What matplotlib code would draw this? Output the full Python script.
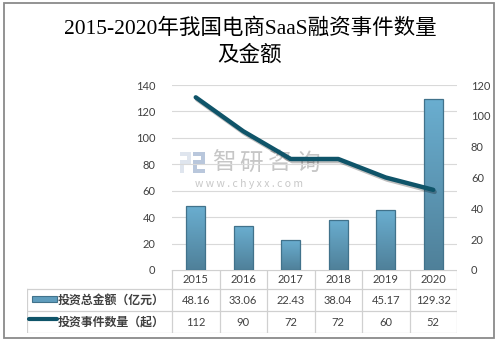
import numpy as np
import matplotlib
matplotlib.use("Agg")
import matplotlib.pyplot as plt
from matplotlib.colors import LinearSegmentedColormap
from matplotlib.patches import Rectangle
import matplotlib.patheffects as pe

years = ["2015", "2016", "2017", "2018", "2019", "2020"]
amount = [48.16, 33.06, 22.43, 38.04, 45.17, 129.32]
amount_labels = ["48.16", "33.06", "22.43", "38.04", "45.17", "129.32"]
events = [112, 90, 72, 72, 60, 52]
series_names = ["投资总金额（亿元）", "投资事件数量（起）"]
title = "2015-2020年我国电商SaaS融资事件数量\n及金额"
watermark = "智研咨询"
watermark_url = "w w w . c h y x x . c o m"

W, H = 499, 344
fig = plt.figure(figsize=(W / 100, H / 100), dpi=100)

def fx(px):
    return px / W

def fy(py):
    return 1 - py / H

CJK = ["Noto Sans CJK SC", "DejaVu Sans"]
NUM = ["Lato", "Noto Sans CJK SC"]
TXT = "#404040"

# outer border
fig.patches.append(Rectangle((fx(4), fy(338)), fx(494) - fx(4), fy(3) - fy(338),
                             transform=fig.transFigure, fill=False,
                             edgecolor="#8a8a8a", linewidth=1.3))

# title
fig.text(fx(250), fy(42), title, ha="center", va="center", fontsize=15.5,
         family=["Liberation Serif", "Noto Sans CJK SC"], color="black",
         linespacing=1.4)

# main axes
L, R, T, B = 172, 457, 85, 270
ax = fig.add_axes([fx(L), fy(B), fx(R) - fx(L), fy(T) - fy(B)])
ax.patch.set_alpha(0)
ax2 = ax.twinx()
ax2.patch.set_alpha(0)
x = np.arange(len(years))
ax.set_xlim(-0.5, len(years) - 0.5)
ax.set_ylim(0, 140)
ax2.set_ylim(0, 120)
ax.set_yticks(np.arange(0, 141, 20))
ax2.set_yticks(np.arange(0, 121, 20))
ax.set_xticks([])
for a in (ax, ax2):
    for s in a.spines.values():
        s.set_visible(False)
    a.tick_params(length=0, labelsize=8, labelcolor=TXT)
ax.tick_params(axis="y", pad=12)
ax2.tick_params(axis="y", pad=10)
for lab in ax.get_yticklabels() + ax2.get_yticklabels():
    lab.set_family(NUM)
ax.grid(axis="y", color="#d9d9d9", linewidth=0.8)
ax.set_axisbelow(True)

# watermark (behind the plot)
for i, ch in enumerate(watermark):
    fig.text(fx(223.5 + i * 28), fy(163), ch, fontsize=17, color="#c6c6c6",
             family=CJK, ha="center", va="center", zorder=-1)
fig.text(fx(249), fy(184), watermark_url, fontsize=7.5, color="#c8c8c8",
         family=CJK, ha="center", va="center", zorder=-1)
for (px0, py0, pw, ph, c) in [(180, 152, 11, 4, "#dfe5ee"), (187, 152, 4, 12, "#dfe5ee"),
                              (180, 160, 11, 4, "#dfe5ee"), (180, 160, 4, 13, "#dfe5ee"),
                              (193, 152, 12, 4, "#b9c7dc"), (201, 152, 4, 12, "#b9c7dc"),
                              (193, 160, 12, 4, "#b9c7dc"), (193, 160, 4, 13, "#b9c7dc"),
                              (193, 169, 12, 4, "#b9c7dc")]:
    fig.patches.append(Rectangle((fx(px0), fy(py0 + ph)), fx(pw), ph / H,
                                 transform=fig.transFigure, facecolor=c,
                                 edgecolor="none", zorder=-1))

# bars with gradient
cmap = LinearSegmentedColormap.from_list("bg", ["#4f8099", "#6aaed0"])
grad = np.linspace(0, 1, 256).reshape(-1, 1)
bw = 0.4
bars = ax.bar(x, amount, width=bw, facecolor="none", edgecolor="#41728b",
              linewidth=0.9, zorder=3)
for b in bars:
    x0, y0 = b.get_x(), b.get_y()
    im = ax.imshow(grad, extent=[x0, x0 + b.get_width(), y0, y0 + b.get_height()],
                   origin="lower", aspect="auto", cmap=cmap, zorder=2.5)
    im.set_clip_path(b)
ax.set_xlim(-0.5, len(years) - 0.5)
ax.set_ylim(0, 140)

# line
ax2.plot(x, events, color="#0f5469", linewidth=3.2, solid_capstyle="round",
         solid_joinstyle="round", zorder=4,
         path_effects=[pe.SimpleLineShadow(offset=(1, -1.5), alpha=0.25), pe.Normal()])

# data table
tb_left = 27
colw = (R - L) / len(years)
tax = fig.add_axes([fx(tb_left), fy(333), fx(R) - fx(tb_left), fy(270) - fy(333)])
tax.set_xlim(-0.5 - (L - tb_left) / colw, len(years) - 0.5)
tax.set_ylim(333, 270)
tax.axis("off")
gc = "#d0d0d0"
xl = -0.5 - (L - tb_left) / colw
rows_y = [270, 289.5, 311.5, 332.5]
tax.plot([-0.5, len(years) - 0.5], [rows_y[0]] * 2, color=gc, lw=0.9)
for yy in rows_y[1:]:
    tax.plot([xl, len(years) - 0.5], [yy] * 2, color=gc, lw=0.9)
tax.plot([xl, xl], [rows_y[1], rows_y[3]], color=gc, lw=0.9)
for i in range(len(years) + 1):
    tax.plot([i - 0.5, i - 0.5], [rows_y[0], rows_y[3]], color=gc, lw=0.9)

for i, yv in enumerate(years):
    tax.text(i, (rows_y[0] + rows_y[1]) / 2, yv, ha="center", va="center",
             fontsize=8, color=TXT, family=NUM)
for i, v in enumerate(amount_labels):
    tax.text(i, (rows_y[1] + rows_y[2]) / 2, v, ha="center", va="center",
             fontsize=8, color=TXT, family=NUM)
for i, v in enumerate(events):
    tax.text(i, (rows_y[2] + rows_y[3]) / 2, str(v), ha="center", va="center",
             fontsize=8, color=TXT, family=NUM)

# legend keys in table
k0 = xl + (32 - tb_left) / colw
k1 = xl + (57 - tb_left) / colw
tax.add_patch(Rectangle((k0, 296), k1 - k0, 6, facecolor="#5f9dbd",
                        edgecolor="#41728b", linewidth=0.8))
tax.plot([xl + (29 - tb_left) / colw, k1], [319.5, 319.5], color="#0f5469",
         linewidth=3, solid_capstyle="round")
tax.text(xl + (58 - tb_left) / colw, (rows_y[1] + rows_y[2]) / 2, series_names[0],
         ha="left", va="center", fontsize=8.6, color=TXT, family=CJK, fontweight="bold")
tax.text(xl + (58 - tb_left) / colw, (rows_y[2] + rows_y[3]) / 2, series_names[1],
         ha="left", va="center", fontsize=8.6, color=TXT, family=CJK, fontweight="bold")

fig.savefig("out.png", dpi=100, facecolor="white")
